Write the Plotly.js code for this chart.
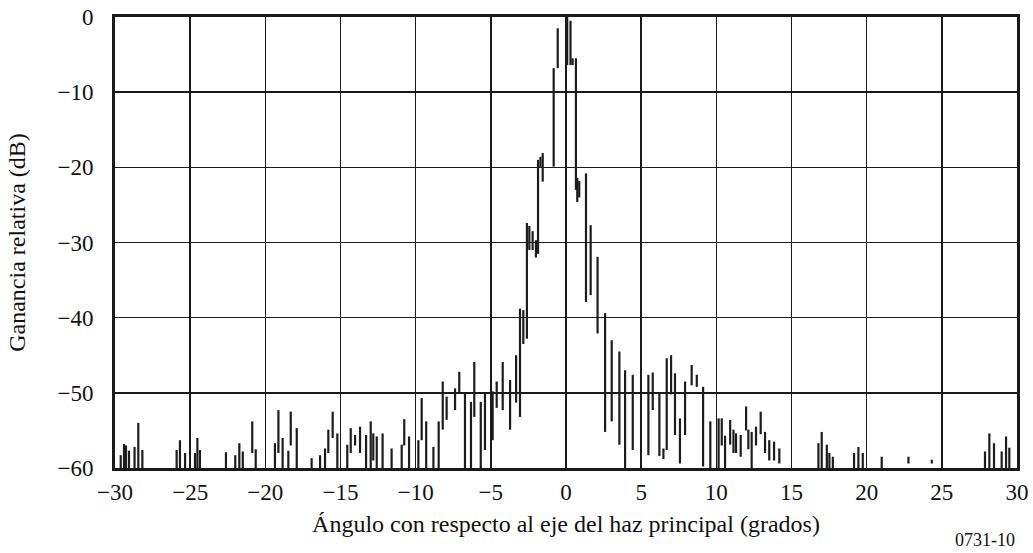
<!DOCTYPE html>
<html>
<head>
<meta charset="utf-8">
<script src="https://cdn.plot.ly/plotly-3.0.1.min.js"></script>
<style>
  html, body { margin: 0; padding: 0; background: #fff; }
  #chart { width: 1033px; height: 553px; }
</style>
</head>
<body>
<div id="chart"></div>
<script>
// Measured antenna pattern: each sample is a vertical excursion of the
// recorder pen at a given off-axis angle (degrees), from floor to peak (dB).
const angle = [
  -29.62, -29.4, -29.27, -29.07, -28.7, -28.45, -28.18,
  -25.9, -25.68, -25.34, -24.68, -24.52, -24.35,
  -22.62, -22.0, -21.73, -21.5, -20.87, -20.64,
  -19.36, -19.13, -18.85, -18.47, -18.31, -17.91,
  -16.92, -16.36, -16.03, -15.81, -15.52, -15.21,
  -14.55, -14.32, -14.03, -13.7, -13.3, -12.99, -12.82, -12.59, -12.2,
  -11.6, -10.93, -10.76, -10.44, -9.82, -9.6, -9.3, -8.82, -8.47,
  -8.2, -7.94, -7.38, -7.1, -6.72, -6.32, -6.1, -5.67, -5.39,
  -4.88, -4.61, -4.21, -3.72, -3.32, -3.06, -2.84, -2.6, -2.44,
  -2.22, -2.0, -1.86, -1.7, -1.55, -0.82, -0.55,
  0.08, 0.3, 0.44, 0.66, 0.75, 0.88, 1.33, 1.64, 2.1,
  2.6, 3.04, 3.55, 3.93, 4.44, 5.48, 5.77, 6.21, 6.48,
  6.7, 6.99, 7.25, 7.58, 7.92, 8.36, 8.7, 9.12, 9.6,
  10.15, 10.36, 10.58, 10.92, 11.14, 11.31, 11.62, 11.98, 12.13,
  12.35, 12.64, 12.95, 13.24, 13.52, 13.84, 14.19,
  16.79, 17.01, 17.35, 17.52, 17.75, 19.16, 19.45, 19.74,
  21.0, 22.78, 24.33, 27.87, 28.16, 28.47, 28.98, 29.27, 29.49
];
const peak = [
  -58.3, -56.8, -57.0, -57.7, -57.2, -54.0, -57.6,
  -57.6, -56.3, -58.0, -58.0, -56.0, -57.6,
  -57.9, -58.3, -56.7, -57.8, -53.8, -57.5,
  -56.7, -52.3, -56.0, -57.7, -52.5, -54.7,
  -58.7, -58.3, -57.4, -54.9, -52.5, -55.4,
  -56.9, -54.7, -55.6, -54.5, -55.6, -53.8, -55.4, -55.8, -55.4,
  -57.4, -56.9, -53.5, -55.8, -56.3, -50.7, -53.8, -57.2, -53.8,
  -48.5, -50.5, -49.4, -47.2, -50.0, -51.2, -45.9, -51.2, -50.0,
  -49.8, -48.5, -45.9, -48.3, -45.0, -38.8, -39.0, -27.4, -27.8,
  -28.5, -29.7, -19.0, -18.6, -18.1, -6.8, -1.5,
  0.0, -0.5, -5.5, -5.5, -21.4, -21.8, -20.8, -27.7, -31.9,
  -39.4, -43.0, -44.5, -47.0, -47.6, -47.6, -47.3, -50.0, -57.4,
  -45.4, -45.0, -47.4, -53.4, -48.5, -46.3, -47.6, -49.2, -53.8,
  -53.4, -53.4, -55.7, -53.6, -54.9, -55.4, -55.6, -51.8, -54.9,
  -55.2, -54.5, -52.5, -55.2, -56.3, -56.5, -57.4,
  -56.7, -55.2, -56.9, -58.0, -58.5, -58.0, -57.2, -58.0,
  -58.5, -58.5, -58.9, -57.8, -55.4, -56.7, -57.8, -55.8, -57.3
];
const floor = [
  -60, -60, -60, -60, -60, -60, -60,
  -60, -60, -60, -60, -60, -60,
  -60, -60, -60, -60, -58, -60,
  -60, -58, -60, -60, -57, -60,
  -60, -60, -60, -58, -56, -60,
  -60, -58, -57, -58, -60, -60, -59, -60, -60,
  -60, -60, -57, -60, -60, -56.3, -60, -60, -60,
  -54.9, -53.6, -52.3, -50.0, -60, -60, -53.2, -60, -57.6,
  -56.3, -52.0, -52.3, -54.9, -51.3, -53.2, -43.5, -42.8, -31.0,
  -31.0, -32.0, -31.5, -20.0, -21.9, -19.9, -6.8,
  -6.4, -6.4, -6.4, -23.0, -24.6, -24.0, -37.9, -37.0, -42.1,
  -55.2, -53.8, -56.9, -60, -57.6, -58.3, -52.3, -58.4, -58.8,
  -57.6, -50.2, -55.6, -59.4, -55.6, -49.0, -49.2, -59.8, -60,
  -60, -57, -60, -56.9, -58, -58, -58.5, -55, -57.5,
  -60, -57, -55.5, -58, -59, -59, -59.4,
  -60, -60, -60, -60, -60, -60, -60, -60,
  -60, -59.4, -59.4, -60, -60, -60, -60, -60, -60
];

const xTicks = [-30, -25, -20, -15, -10, -5, 0, 5, 10, 15, 20, 25, 30];
const yTicks = [0, -10, -20, -30, -40, -50, -60];

// Each excursion becomes one vertical stroke; null breaks the line between them.
const xs = [], ys = [];
angle.forEach((a, i) => {
  xs.push(a, a, null);
  ys.push(floor[i], peak[i], null);
});

const serif = 'Liberation Serif, Times New Roman, serif';
const signed = v => v < 0 ? '\u2212' + Math.abs(v) : String(v);

const trace = {
  type: 'scatter',
  mode: 'lines',
  x: xs,
  y: ys,
  connectgaps: false,
  line: { color: '#1c1c1c', width: 2.2 },
  hoverinfo: 'skip'
};

const layout = {
  width: 1033,
  height: 553,
  margin: { l: 115, r: 16, t: 17, b: 85 },
  paper_bgcolor: '#fff',
  plot_bgcolor: '#fff',
  showlegend: false,
  font: { family: serif, color: '#111', size: 23 },
  xaxis: {
    range: [-30, 30],
    tickvals: xTicks,
    ticktext: xTicks.map(signed),
    showgrid: true,
    gridcolor: '#1a1a1a',
    gridwidth: 1.6,
    zeroline: false,
    showline: true,
    linecolor: '#1a1a1a',
    linewidth: 3,
    mirror: true,
    ticks: '',
    ticklabelstandoff: 1,
    tickfont: { family: serif, size: 23, color: '#111' },
    title: {
      text: 'Ángulo con respecto al eje del haz principal (grados)',
      font: { family: serif, size: 24, color: '#111' },
      standoff: 12
    }
  },
  yaxis: {
    range: [-60, 0],
    tickvals: yTicks,
    ticktext: yTicks.map(signed),
    showgrid: true,
    gridcolor: '#1a1a1a',
    gridwidth: 1.6,
    zeroline: false,
    showline: true,
    linecolor: '#1a1a1a',
    linewidth: 3,
    mirror: true,
    ticks: '',
    ticklabelstandoff: 14,
    tickfont: { family: serif, size: 23, color: '#111' },
    title: {
      text: 'Ganancia relativa (dB)',
      font: { family: serif, size: 24, color: '#111' },
      standoff: 26
    }
  },
  annotations: [{
    text: '0731-10',
    xref: 'paper', yref: 'paper',
    x: 1.0, y: 0,
    xanchor: 'right', yanchor: 'top',
    yshift: -60,
    showarrow: false,
    font: { family: serif, size: 18, color: '#111' }
  }]
};

Plotly.newPlot('chart', [trace], layout, { staticPlot: true, displayModeBar: false });
</script>
</body>
</html>
